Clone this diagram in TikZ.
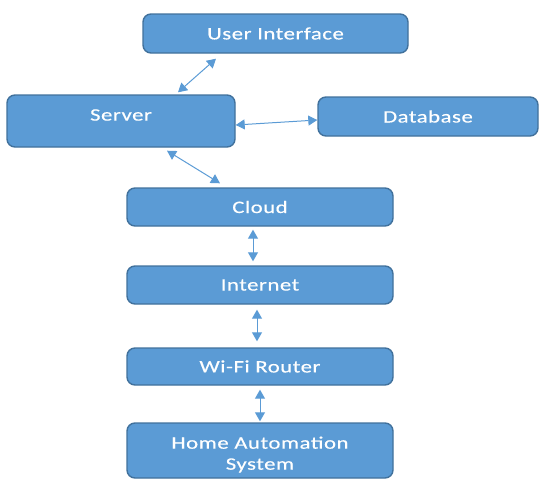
\documentclass[tikz,border=0pt]{standalone}
\usepackage{fontspec}
\setmainfont{Carlito}[FakeStretch=1.3, LetterSpace=3, FakeBold=0.4]
\usetikzlibrary{arrows.meta}
\definecolor{boxfill}{HTML}{5B9BD5}
\definecolor{boxdraw}{HTML}{41719C}
\definecolor{conncol}{HTML}{5B9BD5}
\tikzset{
  blk/.style={draw=boxdraw, fill=boxfill, line width=1.4pt, rounded corners=8pt,
    text=white, font=\fontsize{17.5}{21}\selectfont, align=center, inner sep=0pt},
  conn/.style={draw=conncol, line width=1pt, {Triangle[length=9pt,width=10pt]}-{Triangle[length=9pt,width=10pt]}}
}
\begin{document}
\begin{tikzpicture}[x=1pt,y=-1pt]
\useasboundingbox (0,0) rectangle (539,480);
\node[blk, minimum width=265pt, minimum height=39pt] (ui) at (275.5,33.5) {User Interface};
\node[blk, minimum width=228pt, minimum height=52pt] (server) at (121,121) {\raisebox{6pt}[\height][\depth]{Server}};
\node[blk, minimum width=220pt, minimum height=39pt] (db) at (428,116.5) {Database};
\node[blk, minimum width=266pt, minimum height=38pt] (cloud) at (260,207) {Cloud};
\node[blk, minimum width=266pt, minimum height=38pt] (internet) at (260,285) {Internet};
\node[blk, minimum width=266pt, minimum height=37pt] (wifi) at (260,366.5) {Wi-Fi Router};
\node[blk, minimum width=266pt, minimum height=55pt] (home) at (260,450.5) {\raisebox{-4.5pt}[\height][\depth]{\begin{tabular}{@{}c@{}}Home Automation\\System\end{tabular}}};
\draw[conn] ([xshift=57pt,yshift=2pt]server.north) -- ([xshift=-59.5pt,yshift=-5pt]ui.south);
\draw[conn] ([yshift=-4pt]server.east) -- ([yshift=-3.5pt]db.west);
\draw[conn] ([xshift=46pt,yshift=-3pt]server.south) -- ([xshift=-40pt,yshift=4pt]cloud.north);
\draw[conn] ([xshift=-7pt,yshift=-3pt]cloud.south) -- ([xshift=-7pt,yshift=4pt]internet.north);
\draw[conn] ([xshift=-3pt,yshift=-5pt]internet.south) -- ([xshift=-3pt,yshift=6pt]wifi.north);
\draw[conn] ([yshift=-4pt]wifi.south) -- ([yshift=1pt]home.north);
\end{tikzpicture}
\end{document}
